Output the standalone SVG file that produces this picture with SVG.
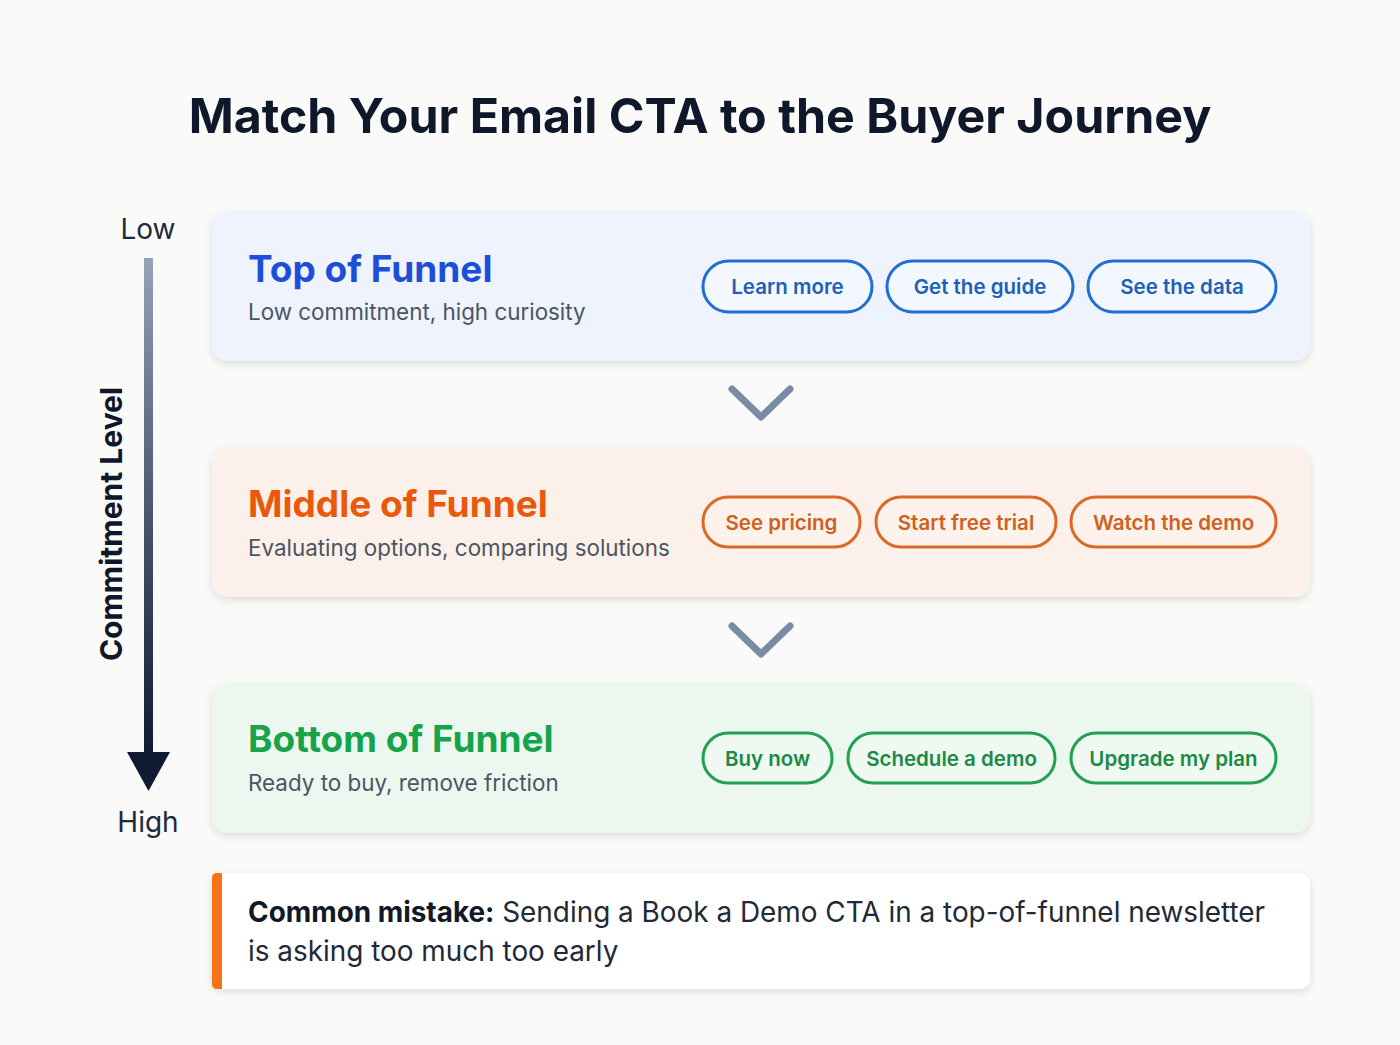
<svg xmlns="http://www.w3.org/2000/svg" width="1400" height="1045" viewBox="0 0 1400 1045">
<defs>
<linearGradient id="axisGrad" x1="0" y1="0" x2="0" y2="1">
<stop offset="0" stop-color="#94a3b8"/>
<stop offset="0.5" stop-color="#4b5870"/>
<stop offset="1" stop-color="#0f1a33"/>
</linearGradient>
<filter id="shadow" x="-5%" y="-20%" width="110%" height="150%">
<feDropShadow dx="0" dy="3" stdDeviation="4" flood-color="#0f172a" flood-opacity="0.12"/>
</filter>
</defs>
<style>
text{font-family:Inter,"Liberation Sans",sans-serif}
.title{font-size:48.3px;font-weight:700;fill:#0f172a}
.h{font-size:37px;font-weight:700}
.sub{font-size:22.4px;fill:#4b5563}
.btn{font-size:20.5px;font-weight:600;text-anchor:middle}
.pill{stroke-width:3}
.blue .pill{fill:#f3f7fe;stroke:#1f6fcf}
.blue .btn{fill:#1e5fb8}
.orange .pill{fill:#fdf3ec;stroke:#dc6a26}
.orange .btn{fill:#d0601c}
.green .pill{fill:#eff9f1;stroke:#22a150}
.green .btn{fill:#1a8a44}
.axis{font-size:28px;fill:#1e293b;text-anchor:middle}
.chev{fill:none;stroke:#7b8ba5;stroke-width:7;stroke-linecap:round;stroke-linejoin:round}
.note{font-size:27.9px;fill:#1f2937}
</style>
<rect width="1400" height="1045" fill="#fafaf8"/>
<text class="title" x="700" y="133" text-anchor="middle">Match Your Email CTA to the Buyer Journey</text>

<g id="axis">
<rect x="144" y="258" width="9" height="498" fill="url(#axisGrad)"/>
<polygon points="127,752 170,752 148.5,791" fill="#0f1a33"/>
<text class="axis" x="148" y="239">Low</text>
<text class="axis" x="148" y="832">High</text>
<text x="0" y="0" transform="translate(122,524) rotate(-90)" text-anchor="middle" font-size="30" font-weight="700" fill="#0f172a">Commitment Level</text>
</g>

<g id="top" class="blue">
<rect x="212" y="211" width="1098" height="150" rx="16" fill="#eef3fd" filter="url(#shadow)"/>
<text class="h" x="248" y="282" fill="#1d4ed8">Top of Funnel</text>
<text class="sub" x="248" y="320">Low commitment, high curiosity</text>
<rect class="pill" x="703" y="261" width="169" height="51" rx="25.5"/>
<text class="btn" x="787.5" y="294">Learn more</text>
<rect class="pill" x="887" y="261" width="186" height="51" rx="25.5"/>
<text class="btn" x="980" y="294">Get the guide</text>
<rect class="pill" x="1088" y="261" width="188" height="51" rx="25.5"/>
<text class="btn" x="1182" y="294">See the data</text>
</g>

<g id="middle" class="orange">
<rect x="212" y="447" width="1098" height="150" rx="16" fill="#fcf1ea" filter="url(#shadow)"/>
<text class="h" x="248" y="517" fill="#ea580c">Middle of Funnel</text>
<text class="sub" x="248" y="556">Evaluating options, comparing solutions</text>
<rect class="pill" x="703" y="497" width="157" height="50" rx="25"/>
<text class="btn" x="781.5" y="530">See pricing</text>
<rect class="pill" x="876" y="497" width="180" height="50" rx="25"/>
<text class="btn" x="966" y="530">Start free trial</text>
<rect class="pill" x="1071" y="497" width="205" height="50" rx="25"/>
<text class="btn" x="1173.5" y="530">Watch the demo</text>
</g>

<g id="bottom" class="green">
<rect x="212" y="683" width="1098" height="150" rx="16" fill="#ecf8ef" filter="url(#shadow)"/>
<text class="h" x="248" y="752" fill="#16a34a">Bottom of Funnel</text>
<text class="sub" x="248" y="791">Ready to buy, remove friction</text>
<rect class="pill" x="703" y="733" width="129" height="50" rx="25"/>
<text class="btn" x="767.5" y="766">Buy now</text>
<rect class="pill" x="848" y="733" width="207" height="50" rx="25"/>
<text class="btn" x="951.5" y="766">Schedule a demo</text>
<rect class="pill" x="1071" y="733" width="205" height="50" rx="25"/>
<text class="btn" x="1173.5" y="766">Upgrade my plan</text>
</g>

<g id="connectors">
<polyline class="chev" points="732,389 761,417 790,389"/>
<polyline class="chev" points="732,626 761,654 790,626"/>
</g>

<g id="callout">
<rect x="212" y="873" width="1098" height="116" rx="10" fill="#ffffff" filter="url(#shadow)"/>
<path d="M222,873 L222,989 L217,989 Q212,989 212,984 L212,878 Q212,873 217,873 Z" fill="#f97316"/>
<text class="note" x="248" y="922"><tspan font-weight="700" fill="#111827">Common mistake:</tspan> Sending a Book a Demo CTA in a top-of-funnel newsletter</text>
<text class="note" x="248" y="961">is asking too much too early</text>
</g>
</svg>
